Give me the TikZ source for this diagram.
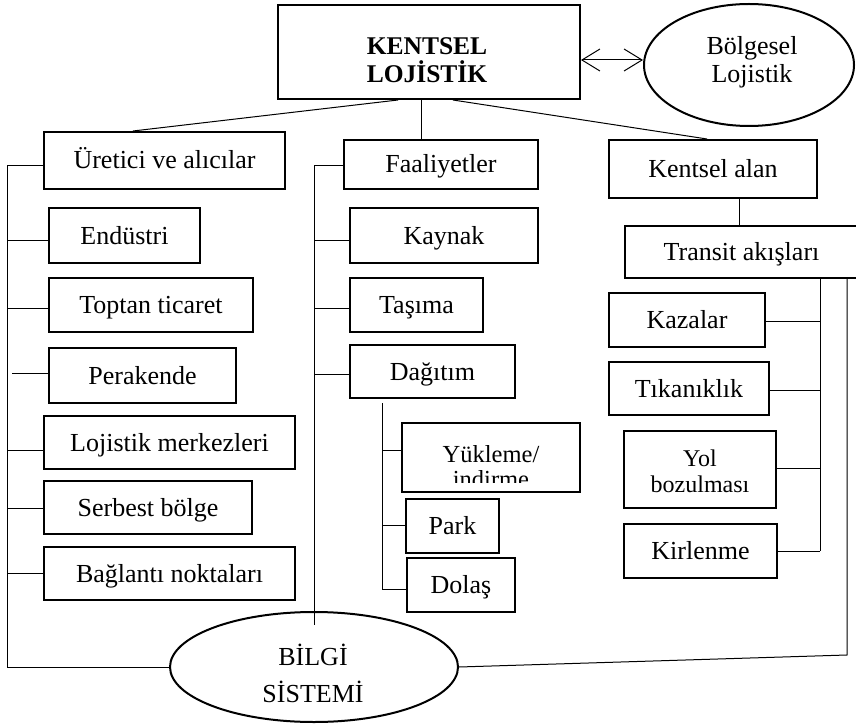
\documentclass[tikz,border=0pt]{standalone}
\usepackage{fontspec}
\setmainfont{Liberation Serif}
\usetikzlibrary{arrows.meta,shapes.geometric}
\newcommand\fsA{\fontsize{26}{30}\selectfont}
\newcommand\fsB{\fontsize{24.5}{28}\selectfont}
\newcommand\fsK{\fontsize{25.5}{30}\selectfont\bfseries}
\begin{document}
\begin{tikzpicture}[x=1pt,y=-1pt,
  box/.style={draw, line width=2pt, inner sep=0pt, font=\fsA, text height=17pt, text depth=0pt},
  mbox/.style={draw, line width=2pt, inner sep=0pt},
  thinbox/.style={draw, line width=1.2pt, inner sep=0pt, font=\fsA, text height=17pt, text depth=0pt},
  oval/.style={draw, ellipse, line width=2pt, inner sep=0pt},
  txt/.style={anchor=base, inner sep=0pt},
  conn/.style={line width=1pt},
  dbl/.style={line width=1pt, {Straight Barb[length=18pt,width=22pt]}-{Straight Barb[length=18pt,width=22pt]}}
]
\useasboundingbox (0,0) rectangle (856,727);

% top
\node[mbox, minimum width=302pt, minimum height=94pt] (kl) at (429,52) {};
\node[txt, font=\fsK] (klA) at (427,54.5) {KENTSEL};
\node[txt, font=\fsK] (klB) at (427,83) {LOJİSTİK};
\node[oval, minimum width=210pt, minimum height=122pt] (bolg) at (749,65) {};
\node[txt, font=\fsA] (bgA) at (752,55) {Bölgesel};
\node[txt, font=\fsA] (bgB) at (752,83) {Lojistik};

% left column
\node[box, minimum width=241pt, minimum height=57pt] (ure) at (164.5,160.5) {Üretici ve alıcılar};
\node[box, minimum width=151pt, minimum height=55pt] (end) at (124.5,235.5) {Endüstri};
\node[box, minimum width=204pt, minimum height=54pt] (top) at (151,305) {Toptan ticaret};
\node[box, minimum width=187pt, minimum height=55pt] (per) at (142.5,375.5) {Perakende};
\node[box, minimum width=251pt, minimum height=53pt] (loj) at (169.5,442.5) {Lojistik merkezleri};
\node[box, minimum width=208pt, minimum height=53pt] (ser) at (148,507.5) {Serbest bölge};
\node[box, minimum width=251pt, minimum height=53pt] (bag) at (169.5,573.5) {Bağlantı noktaları};

% middle column
\node[box, minimum width=194pt, minimum height=49pt] (faal) at (441,164.5) {Faaliyetler};
\node[box, minimum width=188pt, minimum height=55pt] (kay) at (444,235.5) {Kaynak};
\node[box, minimum width=133pt, minimum height=54pt] (tas) at (416.5,305) {Taşıma};
\node[box, minimum width=165pt, minimum height=53pt] (dag) at (432.5,371.5) {Dağıtım};
\node[mbox, minimum width=178pt, minimum height=69pt] (yuk) at (491,457.5) {};
\begin{scope}
  \clip (402,423) rectangle (580,482);
  \node[txt, font=\fsB] (yukA) at (491,462) {Yükleme/};
  \node[txt, font=\fsB] (yukB) at (491,487) {indirme};
\end{scope}
\node[box, minimum width=93pt, minimum height=54pt] (park) at (452.5,526) {Park};
\node[box, minimum width=108pt, minimum height=54pt] (dol) at (461,585) {Dolaş};

% right column
\node[box, minimum width=208pt, minimum height=58pt] (kent) at (713,169) {Kentsel alan};
\node[thinbox, minimum width=233pt, minimum height=52pt] (trans) at (741.5,252) {Transit akışları};
\node[box, minimum width=156pt, minimum height=54pt] (kaz) at (687,320) {Kazalar};
\node[box, minimum width=160pt, minimum height=53pt] (tik) at (689,388.5) {Tıkanıklık};
\node[mbox, minimum width=152pt, minimum height=77pt] (yol) at (700,469.5) {};
\node[txt, font=\fontsize{24}{26}\selectfont] (yolA) at (700,466) {Yol};
\node[txt, font=\fontsize{24}{26}\selectfont] (yolB) at (700,492) {bozulması};
\node[box, minimum width=153pt, minimum height=54pt] (kir) at (700.5,551) {Kirlenme};

% bottom
\node[oval, minimum width=288pt, minimum height=110pt] (bilgi) at (314,667) {};
\node[txt, font=\fsA] (biA) at (313,665) {BİLGİ};
\node[txt, font=\fsA] (biB) at (313,702) {SİSTEMİ};

% top connectors
\draw[conn] ([xshift=-31pt]kl.south) -- ([xshift=-31.5pt]ure.north);
\draw[conn] ([xshift=-8pt]kl.south) -- ([xshift=-20pt]faal.north);
\draw[conn] ([xshift=24pt]kl.south) -- ([xshift=-6pt]kent.north);
\draw[conn] ([xshift=26pt]kent.south) -- ([xshift=-2.5pt]trans.north);
\draw[dbl] ([yshift=-8pt]kl.east) -- ([yshift=5pt]bolg.west);

% left trunk
\coordinate (L1) at (7,166);
\coordinate (L2) at (7,241);
\coordinate (L3) at (7,308);
\coordinate (L4) at (12,373);
\coordinate (L5) at (7,450);
\coordinate (L6) at (7,508);
\coordinate (L7) at (7,573);
\coordinate (L8) at (7,667);
\draw[conn] (L1) -- (L8) -- (bilgi.west);
\draw[conn] (L1) -- (L1 -| ure.west);
\draw[conn] (L2) -- (L2 -| end.west);
\draw[conn] (L3) -- (L3 -| top.west);
\draw[conn] (L4) -- (L4 -| per.west);
\draw[conn] (L5) -- (L5 -| loj.west);
\draw[conn] (L6) -- (L6 -| ser.west);
\draw[conn] (L7) -- (L7 -| bag.west);

% middle trunk
\coordinate (M1) at (314,166);
\coordinate (M2) at (314,241);
\coordinate (M3) at (314,308);
\coordinate (M4) at (314,374);
\coordinate (M5) at (314,625);
\draw[conn] (M1) -- (M5);
\draw[conn] (M1) -- (M1 -| faal.west);
\draw[conn] (M2) -- (M2 -| kay.west);
\draw[conn] (M3) -- (M3 -| tas.west);
\draw[conn] (M4) -- (M4 -| dag.west);

% distribution sub-tree
\coordinate (D0) at (382,403);
\coordinate (D1) at (382,450);
\coordinate (D2) at (382,525);
\coordinate (D3) at (382,589);
\draw[conn] (D0) -- (D3);
\draw[conn] (D1) -- (D1 -| yuk.west);
\draw[conn] (D2) -- (D2 -| park.west);
\draw[conn] (D3) -- (D3 -| dol.west);

% right trunks
\coordinate (R0) at (820,278);
\coordinate (R1) at (820,321);
\coordinate (R2) at (820,390);
\coordinate (R3) at (820,468);
\coordinate (R4) at (820,551);
\draw[conn] (R0) -- (R4);
\draw[conn] (R1 -| kaz.east) -- (R1);
\draw[conn] (R2 -| tik.east) -- (R2);
\draw[conn] (R3 -| yol.east) -- (R3);
\draw[conn] (R4 -| kir.east) -- (R4);
\coordinate (O0) at (847,278);
\coordinate (O1) at (847,655);
\draw[conn] (O0) -- (O1) -- (bilgi.east);
\end{tikzpicture}
\end{document}
